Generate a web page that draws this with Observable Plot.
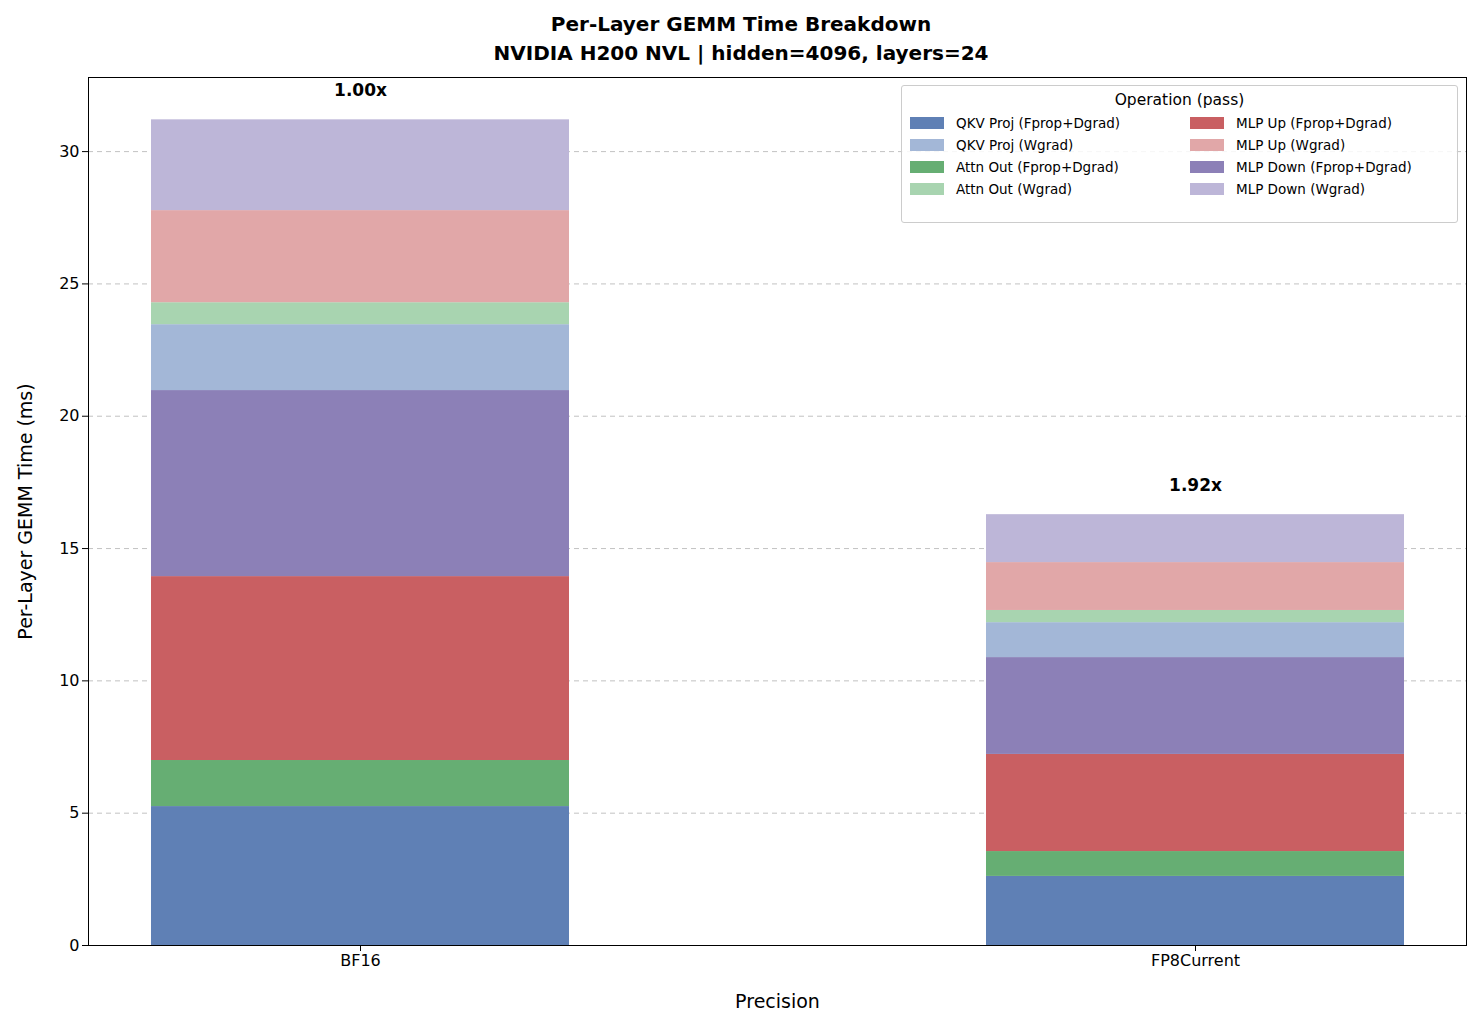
<!DOCTYPE html>
<html><head><meta charset="utf-8">
<script src="https://cdn.jsdelivr.net/npm/d3@7"></script>
<script src="https://cdn.jsdelivr.net/npm/@observablehq/plot@0.6"></script>
<style>
body{margin:0;background:#fff;font-family:"DejaVu Sans",sans-serif;}
#wrap{position:relative;width:1482px;height:1030px;}
#title{height:70px;text-align:center;font-weight:bold;font-size:20px;line-height:29px;padding-top:10px;box-sizing:border-box;}
#legend{position:absolute;left:901px;top:85px;width:557px;height:138px;border:1px solid #ccc;border-radius:3px;background:rgba(255,255,255,0.85);box-sizing:border-box;font-size:13.5px;}
#legend .t{text-align:center;font-size:15.5px;margin-top:5px;margin-bottom:4px;}
#legend .g{display:grid;grid-template-columns:280px 270px;padding-left:8px;row-gap:2px;}
#legend .i{display:flex;align-items:center;height:20px;}
#legend .s{width:34px;height:12px;margin-right:12px;}
#chart svg g[aria-label="x-axis tick label"] text, #chart svg g[aria-label="y-axis tick label"] text{font-size:16px !important;fill:#000;}
#chart svg g[aria-label="x-axis label"] text, #chart svg g[aria-label="y-axis label"] text{font-size:19px !important;fill:#000;}
</style></head><body>
<div id="wrap"><div id="title">Per-Layer GEMM Time Breakdown<br>NVIDIA H200 NVL | hidden=4096, layers=24</div><div id="chart"></div><div id="legend"></div></div>
<script>
const precisions = ["BF16","FP8Current"];
const operations = ["QKV Proj (Fprop+Dgrad)","Attn Out (Fprop+Dgrad)","MLP Up (Fprop+Dgrad)","MLP Down (Fprop+Dgrad)","QKV Proj (Wgrad)","Attn Out (Wgrad)","MLP Up (Wgrad)","MLP Down (Wgrad)"];
const colors = ["#5f80b5","#66ae73","#c95f62","#8c80b7","#a3b7d7","#a8d4b0","#e1a7a8","#bdb6d8"];
const bf16Values = [5.25,1.74,6.95,7.03,2.49,0.83,3.48,3.43];
const fp8Values = [2.61,0.94,3.67,3.66,1.32,0.46,1.81,1.81];
const speedupLabels = ["1.00x","1.92x"];
const legendOrder = ["QKV Proj (Fprop+Dgrad)","MLP Up (Fprop+Dgrad)","QKV Proj (Wgrad)","MLP Up (Wgrad)","Attn Out (Fprop+Dgrad)","MLP Down (Fprop+Dgrad)","Attn Out (Wgrad)","MLP Down (Wgrad)"];

const rows = [];
[bf16Values, fp8Values].forEach((vals,pi)=>vals.forEach((v,oi)=>rows.push({p:precisions[pi],op:operations[oi],v})));
const totals = precisions.map((p,i)=>({p, t:d3.sum([bf16Values,fp8Values][i]), lab:speedupLabels[i]}));

const chart = Plot.plot({
  width:1482, height:960, marginTop:7, marginBottom:85, marginLeft:88, marginRight:16,
  style:{fontSize:"16px", fontFamily:"DejaVu Sans", color:"#000"},
  x:{domain:precisions, paddingInner:0.5, paddingOuter:0.075, label:"Precision", labelAnchor:"center", labelOffset:62, tickSize:6},
  y:{domain:[0,32.8], ticks:[0,5,10,15,20,25,30], label:"Per-Layer GEMM Time (ms)", labelAnchor:"center", labelArrow:"none", labelOffset:70, tickSize:6},
  color:{domain:operations, range:colors},
  marks:[
    Plot.gridY([5,10,15,20,25,30],{stroke:"#999",strokeOpacity:0.6,strokeDasharray:"5,4"}),
    Plot.barY(rows,{x:"p",y:"v",fill:"op",order:operations}),
    Plot.text(totals,{x:"p",y:"t",text:"lab",dy:-29,fontWeight:"bold",fontSize:17}),
    Plot.frame({stroke:"#000"})
  ]
});
document.getElementById("chart").appendChild(chart);

const lg = document.getElementById("legend");
lg.innerHTML = '<div class="t">Operation (pass)</div><div class="g">' +
  legendOrder.map(o=>`<div class="i"><div class="s" style="background:${colors[operations.indexOf(o)]}"></div>${o}</div>`).join("") + '</div>';
</script></body></html>
